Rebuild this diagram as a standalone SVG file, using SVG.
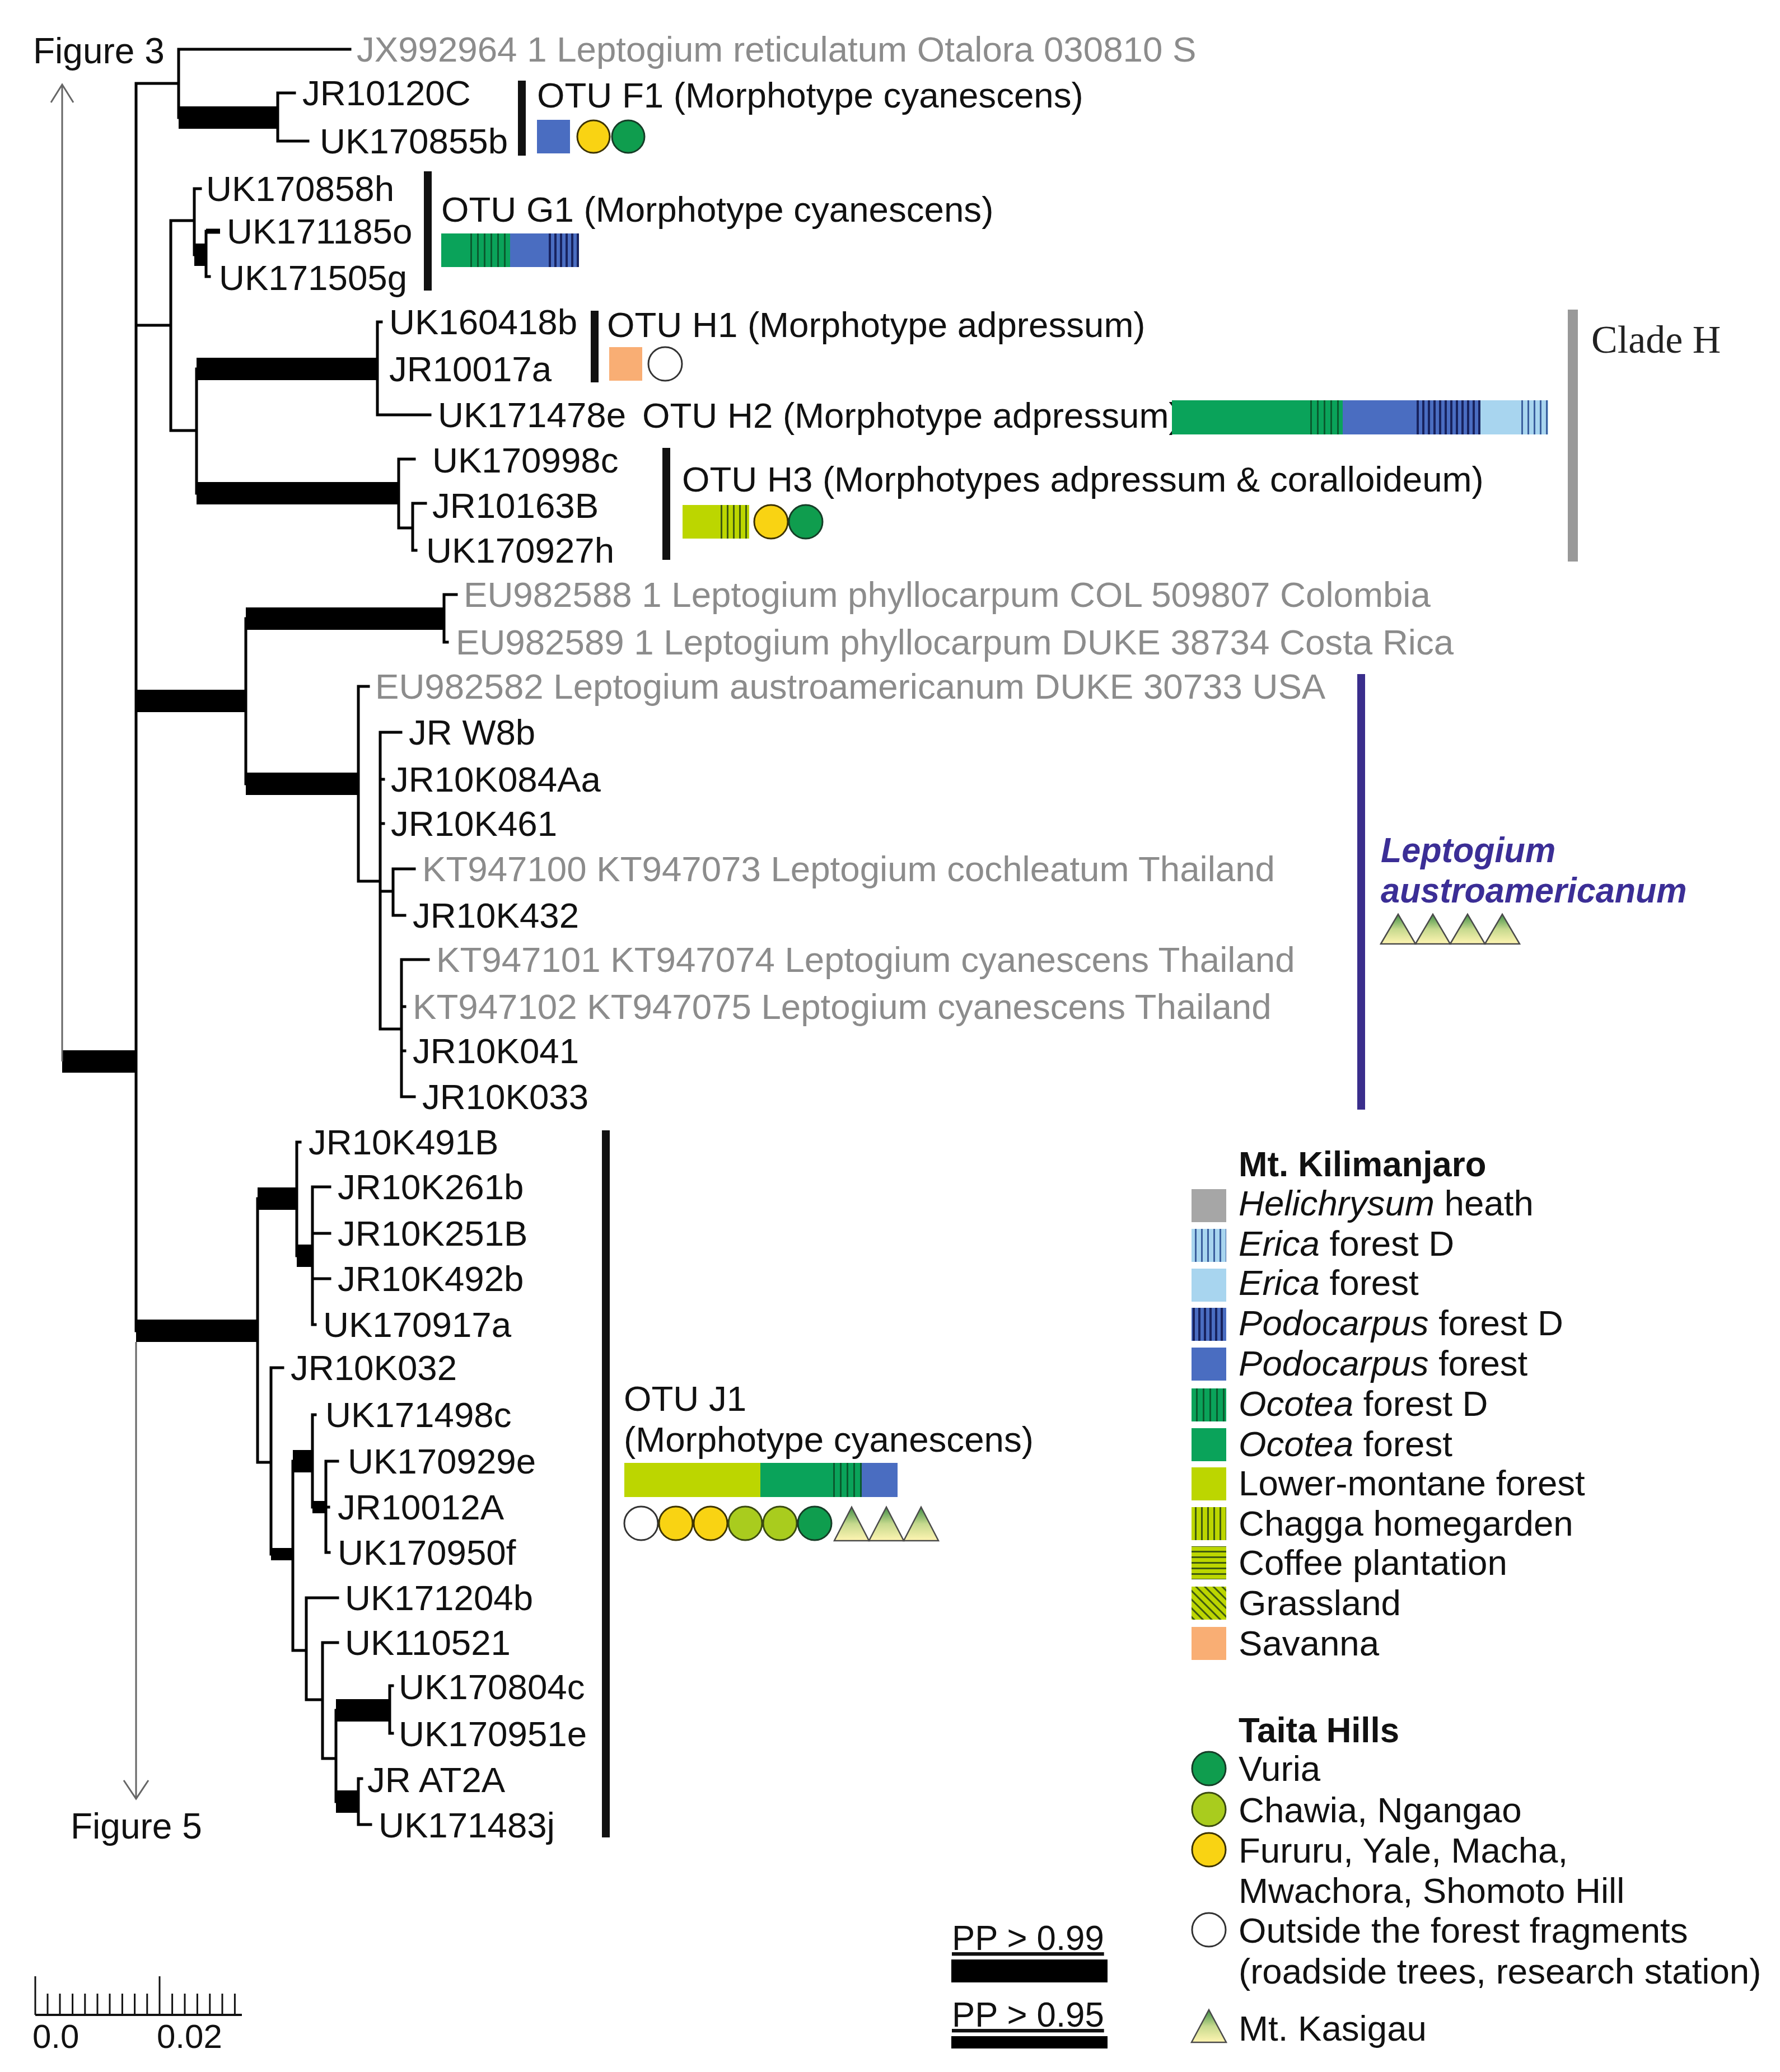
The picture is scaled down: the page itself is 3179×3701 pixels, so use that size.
<svg xmlns="http://www.w3.org/2000/svg" width="3179" height="3701" viewBox="0 0 3179 3701">
<style>
.t{font-family:"Liberation Sans",Arial,sans-serif;font-size:63px;fill:#111}
.g{fill:#8c8c8c}
.big{font-family:"Liberation Sans",Arial,sans-serif;font-size:64px;fill:#111}
.br{fill:none;stroke:#000;stroke-width:5;stroke-linecap:square}
.arr{fill:none;stroke:#666;stroke-width:3}
.pp{fill:#000}
.cb{fill:#111}
.cy{fill:#F9D313;stroke:#3d3300;stroke-width:3}
.cg{fill:#0F9D4E;stroke:#163d27;stroke-width:3}
.cl{fill:#A9CC1E;stroke:#3a4a10;stroke-width:3}
.cw{fill:#fff;stroke:#333;stroke-width:3}
.tri{fill:url(#triG);stroke:#4a4a4a;stroke-width:2.5}
.it{font-style:italic}
.b{font-weight:bold}
</style>
<defs>
<linearGradient id="triG" x1="0" y1="0" x2="0" y2="1">
<stop offset="0" stop-color="#3F8F45"/>
<stop offset="0.5" stop-color="#C6D98E"/>
<stop offset="1" stop-color="#FFF5B2"/>
</linearGradient>
<pattern id="ocoD" patternUnits="userSpaceOnUse" width="12" height="10"><rect width="12" height="10" fill="#0AA35A"/><rect width="3" height="10" fill="#0A5A2E"/></pattern>
<pattern id="podD" patternUnits="userSpaceOnUse" width="10" height="10"><rect width="10" height="10" fill="#4A6DC1"/><rect width="4" height="10" fill="#18235F"/></pattern>
<pattern id="eriD" patternUnits="userSpaceOnUse" width="11" height="10"><rect width="11" height="10" fill="#A8D5EF"/><rect width="3" height="10" fill="#3B5F9E"/></pattern>
<pattern id="chaD" patternUnits="userSpaceOnUse" width="11" height="10"><rect width="11" height="10" fill="#BCD600"/><rect width="3" height="10" fill="#3F5A10"/></pattern>
<pattern id="cof" patternUnits="userSpaceOnUse" width="10" height="10"><rect width="10" height="10" fill="#BCD600"/><rect width="10" height="3" fill="#3F5A10"/></pattern>
<pattern id="gra" patternUnits="userSpaceOnUse" width="11" height="11" patternTransform="rotate(-45)"><rect width="11" height="11" fill="#BCD600"/><rect width="3" height="11" fill="#3F5A10"/></pattern>
</defs>
<rect width="3179" height="3701" fill="#fff"/>

<!-- connectors: tree branches -->
<g id="connectors">
<path class="br" d="M243,149 V2377 M243,149 H319 M319,88 V210 M319,88 H625 M496,166 V252 M496,166 H526 M496,252 H550
M243,581 H305 M305,394 V769 M305,394 H347 M347,337 V455 M347,337 H358 M368,413 V494 M368,494 H374
M305,769 H351 M351,659 V881 M674,575 V741 M674,575 H681 M674,741 H768 M712,820 V943 M712,820 H740 M712,943 H737 M737,899 V983 M737,899 H760 M737,983 H743
M439,1105 V1400 M793,1062 V1147 M793,1062 H815 M793,1147 H799 M640,1226 V1574 M640,1226 H658 M640,1574 H679 M679,1308 V1838 M679,1308 H716 M679,1392 H685 M679,1471 H685 M679,1592 H702 M702,1552 V1635 M702,1552 H740 M702,1635 H723 M679,1838 H717 M717,1714 V1959 M717,1714 H765 M717,1798 H723 M717,1877 H723 M717,1959 H740
M460,2141 V2612 M530,2040 V2243 M530,2040 H536 M558,2120 V2366 M558,2120 H589 M558,2203 H589 M558,2284 H589 M558,2366 H563
M460,2612 H484 M484,2443 V2776 M484,2443 H505 M523,2610 V2948 M558,2527 V2692 M558,2527 H563 M582,2610 V2773 M582,2610 H603 M582,2692 H587 M582,2773 H588
M523,2948 H547 M547,2854 V3036 M547,2854 H603 M547,3036 H576 M576,2934 V3141 M576,2934 H603 M576,3141 H600 M600,3055 V3218 M696,3011 V3096 M696,3011 H701 M696,3096 H701 M640,3177 V3259 M640,3177 H646 M640,3259 H662"/>
<path d="M368,413 H393" stroke="#000" stroke-width="9" fill="none"/>
<rect class="pp" x="111" y="1876" width="132" height="40"/>
<rect class="pp" x="319" y="190" width="177" height="40"/>
<rect class="pp" x="347" y="435" width="21" height="40"/>
<rect class="pp" x="351" y="639" width="323" height="40"/>
<rect class="pp" x="351" y="861" width="361" height="40"/>
<rect class="pp" x="243" y="1232" width="196" height="40"/>
<rect class="pp" x="439" y="1085" width="354" height="40"/>
<rect class="pp" x="439" y="1380" width="201" height="40"/>
<rect class="pp" x="243" y="2357" width="217" height="40"/>
<rect class="pp" x="460" y="2121" width="70" height="40"/>
<rect class="pp" x="530" y="2223" width="28" height="40"/>
<rect class="pp" x="484" y="2765" width="39" height="22"/>
<rect class="pp" x="523" y="2590" width="35" height="40"/>
<rect class="pp" x="558" y="2681" width="24" height="22"/>
<rect class="pp" x="600" y="3035" width="96" height="40"/>
<rect class="pp" x="600" y="3198" width="40" height="40"/>
<path class="arr" d="M111,1896 V151 M91,183 L111,151 L131,183"/>
<path class="arr" d="M243,2397 V3212 M221,3180 L243,3213 L265,3180"/>
</g>

<g id="fig3"><text class="big" x="59" y="113">Figure 3</text></g>
<g id="fig5"><text class="big" x="126" y="3284">Figure 5</text></g>

<!-- leaves -->
<g id="leaf-JX992964"><text class="t g" transform="matrix(1.01 0 0 1 637 110)">JX992964 1 Leptogium reticulatum Otalora 030810 S</text></g>
<g id="leaf-JR10120C"><text class="t" transform="matrix(1.01 0 0 1 540 188)">JR10120C</text></g>
<g id="leaf-UK170855b"><text class="t" transform="matrix(1.01 0 0 1 571 274)">UK170855b</text></g>
<g id="leaf-UK170858h"><text class="t" transform="matrix(1.01 0 0 1 368 359)">UK170858h</text></g>
<g id="leaf-UK171185o"><text class="t" transform="matrix(1.01 0 0 1 405 435)">UK171185o</text></g>
<g id="leaf-UK171505g"><text class="t" transform="matrix(1.01 0 0 1 391 518)">UK171505g</text></g>
<g id="leaf-UK160418b"><text class="t" transform="matrix(1.01 0 0 1 695 597)">UK160418b</text></g>
<g id="leaf-JR10017a"><text class="t" transform="matrix(1.01 0 0 1 695 681)">JR10017a</text></g>
<g id="leaf-UK171478e"><text class="t" transform="matrix(1.01 0 0 1 782 763)">UK171478e</text></g>
<g id="leaf-UK170998c"><text class="t" transform="matrix(1.01 0 0 1 772 844)">UK170998c</text></g>
<g id="leaf-JR10163B"><text class="t" transform="matrix(1.01 0 0 1 772 925)">JR10163B</text></g>
<g id="leaf-UK170927h"><text class="t" transform="matrix(1.01 0 0 1 761 1005)">UK170927h</text></g>
<g id="leaf-EU982588"><text class="t g" transform="matrix(1.01 0 0 1 828 1084)">EU982588 1 Leptogium phyllocarpum COL 509807 Colombia</text></g>
<g id="leaf-EU982589"><text class="t g" transform="matrix(1.01 0 0 1 814 1169)">EU982589 1 Leptogium phyllocarpum DUKE 38734 Costa Rica</text></g>
<g id="leaf-EU982582"><text class="t g" transform="matrix(1.01 0 0 1 670 1248)">EU982582 Leptogium austroamericanum DUKE 30733 USA</text></g>
<g id="leaf-JRW8b"><text class="t" transform="matrix(1.01 0 0 1 730 1330)">JR W8b</text></g>
<g id="leaf-JR10K084Aa"><text class="t" transform="matrix(1.01 0 0 1 698 1414)">JR10K084Aa</text></g>
<g id="leaf-JR10K461"><text class="t" transform="matrix(1.01 0 0 1 698 1493)">JR10K461</text></g>
<g id="leaf-KT947100"><text class="t g" transform="matrix(1.01 0 0 1 754 1574)">KT947100 KT947073 Leptogium cochleatum Thailand</text></g>
<g id="leaf-JR10K432"><text class="t" transform="matrix(1.01 0 0 1 737 1657)">JR10K432</text></g>
<g id="leaf-KT947101"><text class="t g" transform="matrix(1.01 0 0 1 779 1736)">KT947101 KT947074 Leptogium cyanescens Thailand</text></g>
<g id="leaf-KT947102"><text class="t g" transform="matrix(1.01 0 0 1 737 1820)">KT947102 KT947075 Leptogium cyanescens Thailand</text></g>
<g id="leaf-JR10K041"><text class="t" transform="matrix(1.01 0 0 1 737 1899)">JR10K041</text></g>
<g id="leaf-JR10K033"><text class="t" transform="matrix(1.01 0 0 1 754 1981)">JR10K033</text></g>
<g id="leaf-JR10K491B"><text class="t" transform="matrix(1.01 0 0 1 551 2062)">JR10K491B</text></g>
<g id="leaf-JR10K261b"><text class="t" transform="matrix(1.01 0 0 1 603 2142)">JR10K261b</text></g>
<g id="leaf-JR10K251B"><text class="t" transform="matrix(1.01 0 0 1 603 2225)">JR10K251B</text></g>
<g id="leaf-JR10K492b"><text class="t" transform="matrix(1.01 0 0 1 603 2306)">JR10K492b</text></g>
<g id="leaf-UK170917a"><text class="t" transform="matrix(1.01 0 0 1 577 2388)">UK170917a</text></g>
<g id="leaf-JR10K032"><text class="t" transform="matrix(1.01 0 0 1 519 2465)">JR10K032</text></g>
<g id="leaf-UK171498c"><text class="t" transform="matrix(1.01 0 0 1 581 2549)">UK171498c</text></g>
<g id="leaf-UK170929e"><text class="t" transform="matrix(1.01 0 0 1 621 2632)">UK170929e</text></g>
<g id="leaf-JR10012A"><text class="t" transform="matrix(1.01 0 0 1 603 2714)">JR10012A</text></g>
<g id="leaf-UK170950f"><text class="t" transform="matrix(1.01 0 0 1 603 2795)">UK170950f</text></g>
<g id="leaf-UK171204b"><text class="t" transform="matrix(1.01 0 0 1 616 2876)">UK171204b</text></g>
<g id="leaf-UK110521"><text class="t" transform="matrix(1.01 0 0 1 616 2956)">UK110521</text></g>
<g id="leaf-UK170804c"><text class="t" transform="matrix(1.01 0 0 1 712 3035)">UK170804c</text></g>
<g id="leaf-UK170951e"><text class="t" transform="matrix(1.01 0 0 1 712 3119)">UK170951e</text></g>
<g id="leaf-JRAT2A"><text class="t" transform="matrix(1.01 0 0 1 656 3201)">JR AT2A</text></g>
<g id="leaf-UK171483j"><text class="t" transform="matrix(1.01 0 0 1 676 3282)">UK171483j</text></g>

<!-- OTU annotations -->
<g id="otu-F1">
<rect class="cb" x="925" y="144" width="14" height="134"/>
<text class="t" transform="matrix(1.01 0 0 1 959 192)">OTU F1 (Morphotype cyanescens)</text>
<rect x="959" y="214" width="59" height="60" fill="#4A6DC1"/>
<circle class="cy" cx="1060" cy="244" r="29"/>
<circle class="cg" cx="1122" cy="244" r="29"/>
</g>
<g id="otu-G1">
<rect class="cb" x="757" y="306" width="14" height="213"/>
<text class="t" transform="matrix(1.01 0 0 1 788 396)">OTU G1 (Morphotype cyanescens)</text>
<rect x="788" y="417" width="46" height="60" fill="#0AA35A"/>
<rect x="834" y="417" width="77" height="60" fill="url(#ocoD)"/>
<rect x="911" y="417" width="67" height="60" fill="#4A6DC1"/>
<rect x="978" y="417" width="56" height="60" fill="url(#podD)"/>
</g>
<g id="otu-H1">
<rect class="cb" x="1055" y="555" width="14" height="128"/>
<text class="t" transform="matrix(1.01 0 0 1 1084 602)">OTU H1 (Morphotype adpressum)</text>
<rect x="1088" y="620" width="59" height="60" fill="#F9AE74"/>
<circle class="cw" cx="1188" cy="650" r="30"/>
</g>
<g id="otu-H2">
<text class="t" transform="matrix(1.01 0 0 1 1147 764)">OTU H2 (Morphotype adpressum)</text>
<rect x="2093" y="715" width="247" height="61" fill="#0AA35A"/>
<rect x="2340" y="715" width="58" height="61" fill="url(#ocoD)"/>
<rect x="2398" y="715" width="130" height="61" fill="#4A6DC1"/>
<rect x="2528" y="715" width="116" height="61" fill="url(#podD)"/>
<rect x="2644" y="715" width="68" height="61" fill="#A8D5EF"/>
<rect x="2712" y="715" width="53" height="61" fill="url(#eriD)"/>
</g>
<g id="otu-H3">
<rect class="cb" x="1183" y="800" width="14" height="200"/>
<text class="t" transform="matrix(1.01 0 0 1 1218 878)">OTU H3 (Morphotypes adpressum &amp; coralloideum)</text>
<rect x="1219" y="902" width="65" height="60" fill="#BCD600"/>
<rect x="1284" y="902" width="54" height="60" fill="url(#chaD)"/>
<circle class="cy" cx="1377" cy="932" r="30"/>
<circle class="cg" cx="1439" cy="932" r="30"/>
</g>
<g id="clade-H">
<rect x="2800" y="553" width="18" height="450" fill="#999"/>
<text x="2842" y="630" font-family="'Liberation Serif','Times New Roman',serif" font-size="70" fill="#222">Clade H</text>
</g>
<g id="clade-austro">
<rect x="2424" y="1204" width="14" height="778" fill="#3A2E8C"/>
<text class="t it b" style="fill:#3B2E96" transform="matrix(0.97 0 0 1 2466 1540)">Leptogium</text>
<text class="t it b" style="fill:#3B2E96" transform="matrix(0.97 0 0 1 2466 1612)">austroamericanum</text>
<polygon class="tri" points="2466,1686 2497,1633 2528,1686"/>
<polygon class="tri" points="2528,1686 2559,1633 2590,1686"/>
<polygon class="tri" points="2590,1686 2621,1633 2652,1686"/>
<polygon class="tri" points="2652,1686 2683,1633 2714,1686"/>
</g>
<g id="otu-J1">
<rect class="cb" x="1075" y="2019" width="14" height="1263"/>
<text class="t" transform="matrix(1.01 0 0 1 1114 2520)">OTU J1</text>
<text class="t" transform="matrix(1.01 0 0 1 1114 2593)">(Morphotype cyanescens)</text>
<rect x="1115" y="2613" width="243" height="61" fill="#BCD600"/>
<rect x="1358" y="2613" width="123" height="61" fill="#0AA35A"/>
<rect x="1481" y="2613" width="58" height="61" fill="url(#ocoD)"/>
<rect x="1539" y="2613" width="64" height="61" fill="#4A6DC1"/>
<circle class="cw" cx="1145" cy="2721" r="30"/>
<circle class="cy" cx="1207" cy="2721" r="30"/>
<circle class="cy" cx="1269" cy="2721" r="30"/>
<circle class="cl" cx="1331" cy="2721" r="30"/>
<circle class="cl" cx="1393" cy="2721" r="30"/>
<circle class="cg" cx="1455" cy="2721" r="30"/>
<polygon class="tri" points="1490,2752 1521,2692 1552,2752"/>
<polygon class="tri" points="1552,2752 1583,2692 1614,2752"/>
<polygon class="tri" points="1614,2752 1645,2692 1676,2752"/>
</g>

<!-- legend -->
<g id="legend-kilimanjaro">
<text class="t b" transform="matrix(0.98 0 0 1 2212 2101)">Mt. Kilimanjaro</text>
<rect x="2128" y="2124" width="62" height="59" fill="#A6A6A6"/>
<rect x="2128" y="2195" width="62" height="59" fill="url(#eriD)"/>
<rect x="2128" y="2266" width="62" height="59" fill="#A8D5EF"/>
<rect x="2128" y="2336" width="62" height="59" fill="url(#podD)"/>
<rect x="2128" y="2407" width="62" height="59" fill="#4A6DC1"/>
<rect x="2128" y="2480" width="62" height="59" fill="url(#ocoD)"/>
<rect x="2128" y="2551" width="62" height="59" fill="#0AA35A"/>
<rect x="2128" y="2621" width="62" height="59" fill="#BCD600"/>
<rect x="2128" y="2692" width="62" height="59" fill="url(#chaD)"/>
<rect x="2128" y="2762" width="62" height="59" fill="url(#cof)"/>
<rect x="2128" y="2834" width="62" height="59" fill="url(#gra)"/>
<rect x="2128" y="2906" width="62" height="59" fill="#F9AE74"/>
<text class="t" transform="matrix(1.01 0 0 1 2212 2171)"><tspan class="it">Helichrysum</tspan> heath</text>
<text class="t" transform="matrix(1.01 0 0 1 2212 2243)"><tspan class="it">Erica</tspan> forest D</text>
<text class="t" transform="matrix(1.01 0 0 1 2212 2313)"><tspan class="it">Erica</tspan> forest</text>
<text class="t" transform="matrix(1.01 0 0 1 2212 2385)"><tspan class="it">Podocarpus</tspan> forest D</text>
<text class="t" transform="matrix(1.01 0 0 1 2212 2457)"><tspan class="it">Podocarpus</tspan> forest</text>
<text class="t" transform="matrix(1.01 0 0 1 2212 2529)"><tspan class="it">Ocotea</tspan> forest D</text>
<text class="t" transform="matrix(1.01 0 0 1 2212 2601)"><tspan class="it">Ocotea</tspan> forest</text>
<text class="t" transform="matrix(1.01 0 0 1 2212 2671)">Lower-montane forest</text>
<text class="t" transform="matrix(1.01 0 0 1 2212 2743)">Chagga homegarden</text>
<text class="t" transform="matrix(1.01 0 0 1 2212 2813)">Coffee plantation</text>
<text class="t" transform="matrix(1.01 0 0 1 2212 2885)">Grassland</text>
<text class="t" transform="matrix(1.01 0 0 1 2212 2957)">Savanna</text>
</g>
<g id="legend-taita">
<text class="t b" transform="matrix(0.98 0 0 1 2212 3112)">Taita Hills</text>
<circle class="cg" cx="2159" cy="3159" r="30"/>
<circle class="cl" cx="2159" cy="3232" r="30"/>
<circle class="cy" cx="2159" cy="3304" r="30"/>
<circle class="cw" cx="2159" cy="3447" r="30"/>
<text class="t" transform="matrix(1.01 0 0 1 2212 3181)">Vuria</text>
<text class="t" transform="matrix(1.01 0 0 1 2212 3255)">Chawia, Ngangao</text>
<text class="t" transform="matrix(1.01 0 0 1 2212 3327)">Fururu, Yale, Macha,</text>
<text class="t" transform="matrix(1.01 0 0 1 2212 3399)">Mwachora, Shomoto Hill</text>
<text class="t" transform="matrix(1.01 0 0 1 2212 3470)">Outside the forest fragments</text>
<text class="t" transform="matrix(1.01 0 0 1 2212 3543)">(roadside trees, research station)</text>
<polygon class="tri" points="2128,3648 2159,3590 2190,3648"/>
<text class="t" transform="matrix(1.01 0 0 1 2212 3645)">Mt. Kasigau</text>
</g>
<g id="legend-pp">
<text class="t" text-decoration="underline" transform="matrix(0.98 0 0 1 1700 3483)">PP &gt; 0.99</text>
<rect class="pp" x="1699" y="3500" width="279" height="41"/>
<text class="t" text-decoration="underline" transform="matrix(0.98 0 0 1 1700 3620)">PP &gt; 0.95</text>
<rect class="pp" x="1699" y="3637" width="279" height="22"/>
</g>
<g id="scale-bar">
<path d="M63,3599 H432" stroke="#111" stroke-width="4" fill="none"/>
<path d="M63,3530 V3599 M285,3530 V3599 M85,3561 V3599 M107,3561 V3599 M129.6,3561 V3599 M151.8,3561 V3599 M174,3561 V3599 M196,3561 V3599 M218.4,3561 V3599 M240.6,3561 V3599 M262.8,3561 V3599 M307.6,3561 V3599 M330,3561 V3599 M352.4,3561 V3599 M374.8,3561 V3599 M397,3561 V3599 M419.4,3561 V3599" stroke="#111" stroke-width="3" fill="none"/>
<text x="58" y="3658" font-family="'Liberation Sans',Arial,sans-serif" font-size="60" fill="#111">0.0</text>
<text x="280" y="3658" font-family="'Liberation Sans',Arial,sans-serif" font-size="60" fill="#111">0.02</text>
</g>
</svg>
